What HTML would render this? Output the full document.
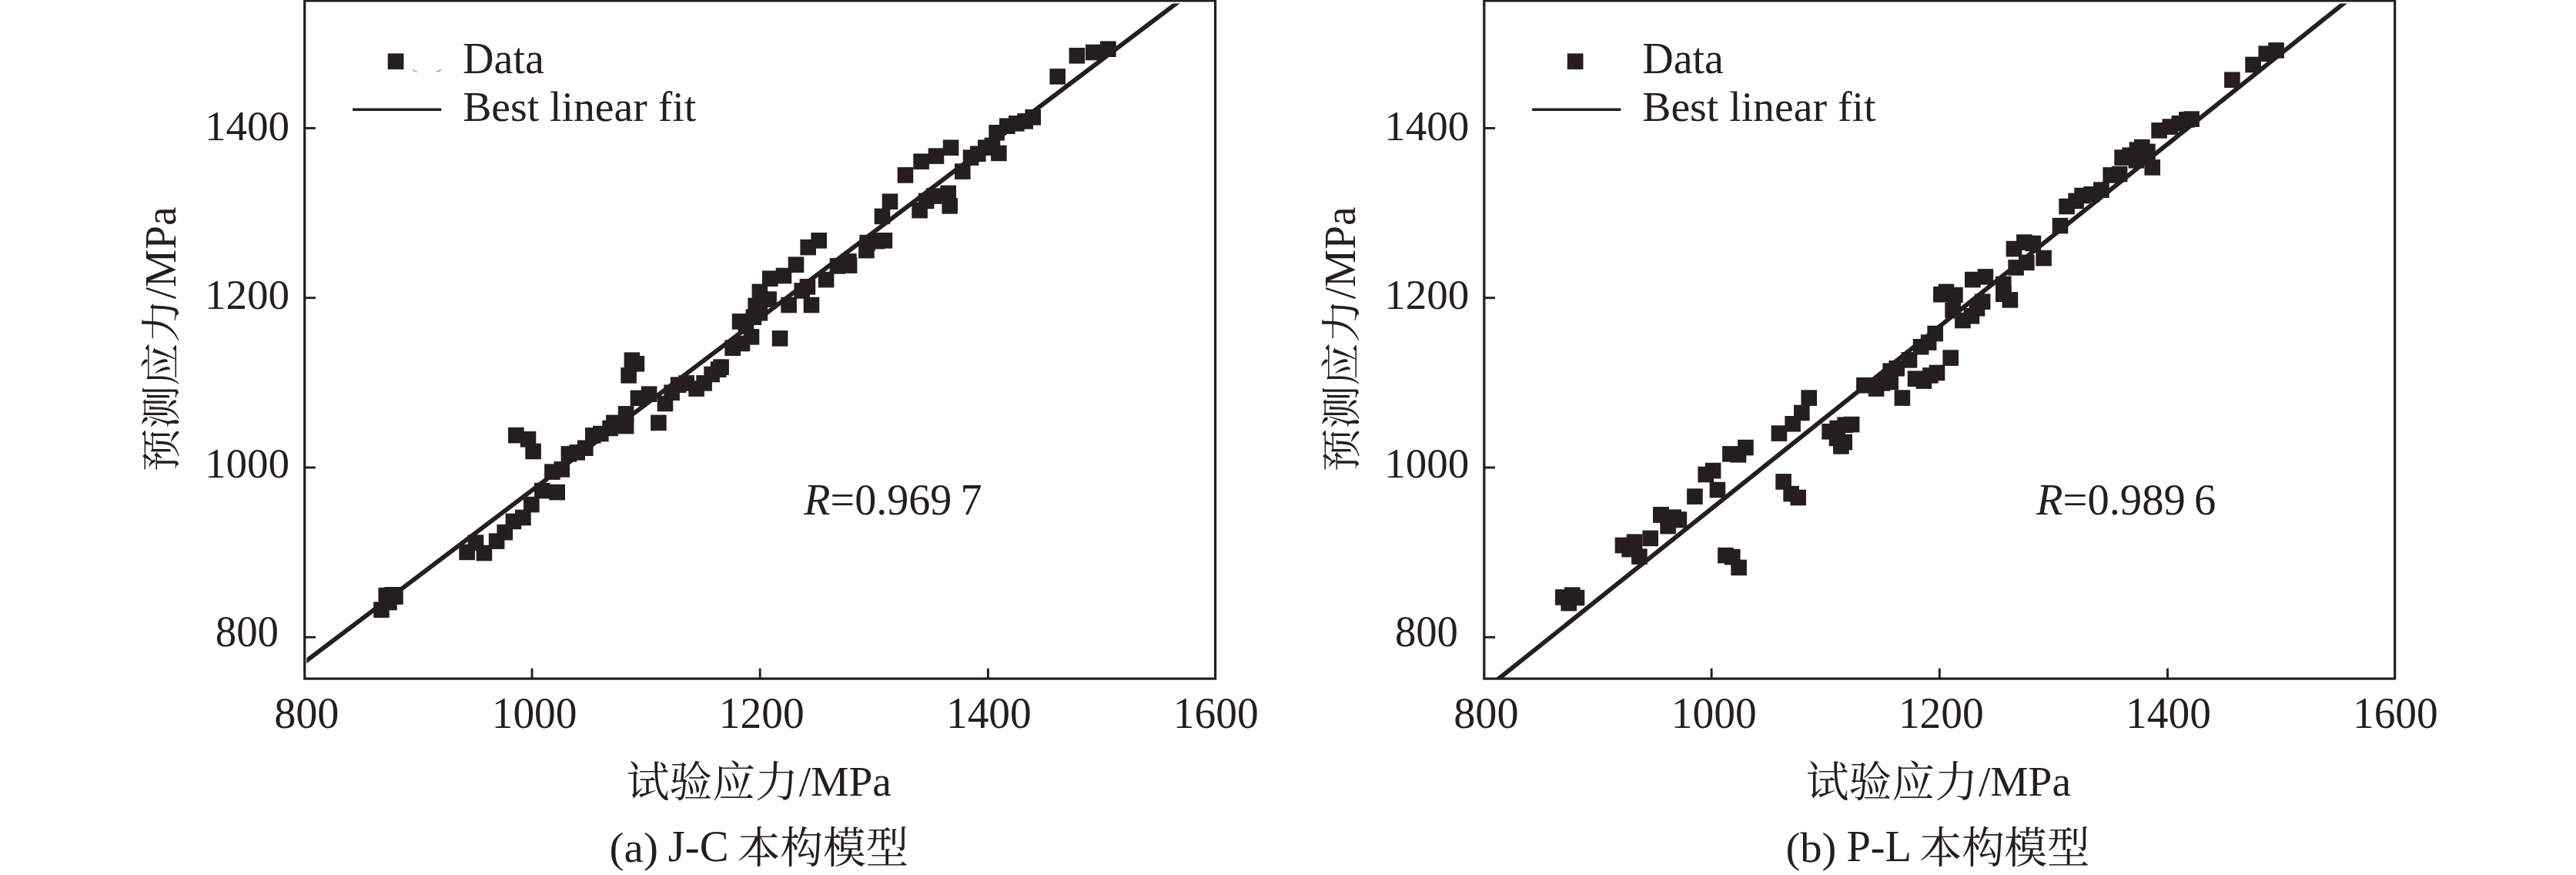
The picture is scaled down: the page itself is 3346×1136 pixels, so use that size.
<!DOCTYPE html>
<html lang="zh"><head><meta charset="utf-8"><title>J-C / P-L 本构模型 预测应力-试验应力</title>
<style>
html,body{margin:0;padding:0;background:#fff;}
body{width:3346px;height:1136px;overflow:hidden;}
svg{display:block;}
text{font-family:"Liberation Serif","Noto Serif CJK SC",serif;fill:#231f20;font-variant-ligatures:none;}
.i{font-style:italic;}
</style></head><body>
<svg width="3346" height="1136" viewBox="0 0 3346 1136">
<rect x="0" y="0" width="3346" height="1136" fill="#fff"/>
<g>
<clipPath id="clip0"><rect x="395.7" y="0" width="1182.9" height="881.1"/></clipPath>
<clipPath id="clip0L"><rect x="398.3" y="4.5" width="1180.3" height="876.6"/></clipPath>
<line x1="380.0" y1="871.5" x2="1560.0" y2="-19.8" stroke="#231f20" stroke-width="5.8" clip-path="url(#clip0L)"/>
<g fill="#231f20" clip-path="url(#clip0)">
<rect x="485.1" y="781.4" width="20.6" height="20.6"/>
<rect x="491.4" y="762.8" width="20.6" height="20.6"/>
<rect x="499.4" y="762.0" width="20.6" height="20.6"/>
<rect x="503.1" y="764.3" width="20.6" height="20.6"/>
<rect x="495.1" y="771.7" width="20.6" height="20.6"/>
<rect x="596.3" y="706.6" width="20.6" height="20.6"/>
<rect x="607.7" y="694.3" width="20.6" height="20.6"/>
<rect x="618.6" y="707.7" width="20.6" height="20.6"/>
<rect x="634.8" y="692.3" width="20.6" height="20.6"/>
<rect x="645.4" y="680.8" width="20.6" height="20.6"/>
<rect x="656.6" y="666.6" width="20.6" height="20.6"/>
<rect x="669.1" y="661.7" width="20.6" height="20.6"/>
<rect x="680.0" y="644.8" width="20.6" height="20.6"/>
<rect x="694.0" y="626.8" width="20.6" height="20.6"/>
<rect x="713.4" y="628.8" width="20.6" height="20.6"/>
<rect x="707.1" y="602.3" width="20.6" height="20.6"/>
<rect x="719.4" y="599.1" width="20.6" height="20.6"/>
<rect x="660.0" y="554.8" width="20.6" height="20.6"/>
<rect x="675.7" y="560.0" width="20.6" height="20.6"/>
<rect x="682.3" y="575.7" width="20.6" height="20.6"/>
<rect x="728.6" y="579.1" width="20.6" height="20.6"/>
<rect x="739.4" y="577.1" width="20.6" height="20.6"/>
<rect x="750.0" y="571.4" width="20.6" height="20.6"/>
<rect x="760.0" y="555.1" width="20.6" height="20.6"/>
<rect x="770.0" y="552.8" width="20.6" height="20.6"/>
<rect x="782.3" y="545.7" width="20.6" height="20.6"/>
<rect x="787.1" y="538.6" width="20.6" height="20.6"/>
<rect x="802.8" y="527.1" width="20.6" height="20.6"/>
<rect x="802.8" y="542.8" width="20.6" height="20.6"/>
<rect x="818.6" y="506.6" width="20.6" height="20.6"/>
<rect x="832.8" y="501.4" width="20.6" height="20.6"/>
<rect x="810.6" y="457.4" width="20.6" height="20.6"/>
<rect x="816.6" y="462.0" width="20.6" height="20.6"/>
<rect x="806.3" y="477.1" width="20.6" height="20.6"/>
<rect x="845.1" y="538.6" width="20.6" height="20.6"/>
<rect x="853.7" y="513.7" width="20.6" height="20.6"/>
<rect x="862.3" y="499.4" width="20.6" height="20.6"/>
<rect x="870.8" y="489.4" width="20.6" height="20.6"/>
<rect x="881.4" y="487.1" width="20.6" height="20.6"/>
<rect x="894.3" y="494.3" width="20.6" height="20.6"/>
<rect x="904.3" y="487.1" width="20.6" height="20.6"/>
<rect x="914.3" y="475.7" width="20.6" height="20.6"/>
<rect x="922.8" y="469.4" width="20.6" height="20.6"/>
<rect x="926.3" y="466.3" width="20.6" height="20.6"/>
<rect x="941.4" y="441.4" width="20.6" height="20.6"/>
<rect x="953.7" y="435.7" width="20.6" height="20.6"/>
<rect x="965.7" y="427.1" width="20.6" height="20.6"/>
<rect x="1002.8" y="429.1" width="20.6" height="20.6"/>
<rect x="950.8" y="407.1" width="20.6" height="20.6"/>
<rect x="958.6" y="412.8" width="20.6" height="20.6"/>
<rect x="968.6" y="401.4" width="20.6" height="20.6"/>
<rect x="971.4" y="386.6" width="20.6" height="20.6"/>
<rect x="976.6" y="368.6" width="20.6" height="20.6"/>
<rect x="988.3" y="378.3" width="20.6" height="20.6"/>
<rect x="976.6" y="396.0" width="20.6" height="20.6"/>
<rect x="990.0" y="351.4" width="20.6" height="20.6"/>
<rect x="1007.7" y="347.7" width="20.6" height="20.6"/>
<rect x="1023.7" y="333.4" width="20.6" height="20.6"/>
<rect x="1039.4" y="310.8" width="20.6" height="20.6"/>
<rect x="1053.4" y="302.0" width="20.6" height="20.6"/>
<rect x="1014.3" y="385.7" width="20.6" height="20.6"/>
<rect x="1031.4" y="367.1" width="20.6" height="20.6"/>
<rect x="1038.6" y="362.0" width="20.6" height="20.6"/>
<rect x="1043.7" y="385.7" width="20.6" height="20.6"/>
<rect x="1062.8" y="352.8" width="20.6" height="20.6"/>
<rect x="1077.7" y="335.1" width="20.6" height="20.6"/>
<rect x="1092.0" y="329.1" width="20.6" height="20.6"/>
<rect x="1092.8" y="334.3" width="20.6" height="20.6"/>
<rect x="1115.1" y="314.8" width="20.6" height="20.6"/>
<rect x="1116.3" y="304.8" width="20.6" height="20.6"/>
<rect x="1128.6" y="302.8" width="20.6" height="20.6"/>
<rect x="1138.6" y="302.0" width="20.6" height="20.6"/>
<rect x="1135.7" y="270.6" width="20.6" height="20.6"/>
<rect x="1145.7" y="251.4" width="20.6" height="20.6"/>
<rect x="1165.7" y="217.1" width="20.6" height="20.6"/>
<rect x="1184.3" y="262.8" width="20.6" height="20.6"/>
<rect x="1192.8" y="250.6" width="20.6" height="20.6"/>
<rect x="1202.8" y="244.3" width="20.6" height="20.6"/>
<rect x="1221.4" y="240.6" width="20.6" height="20.6"/>
<rect x="1223.4" y="257.1" width="20.6" height="20.6"/>
<rect x="1240.0" y="212.3" width="20.6" height="20.6"/>
<rect x="1186.3" y="199.4" width="20.6" height="20.6"/>
<rect x="1205.7" y="192.3" width="20.6" height="20.6"/>
<rect x="1224.8" y="181.4" width="20.6" height="20.6"/>
<rect x="1250.8" y="194.3" width="20.6" height="20.6"/>
<rect x="1260.0" y="189.4" width="20.6" height="20.6"/>
<rect x="1270.0" y="181.4" width="20.6" height="20.6"/>
<rect x="1278.6" y="178.6" width="20.6" height="20.6"/>
<rect x="1287.1" y="188.6" width="20.6" height="20.6"/>
<rect x="1284.3" y="162.0" width="20.6" height="20.6"/>
<rect x="1298.0" y="153.4" width="20.6" height="20.6"/>
<rect x="1310.0" y="150.0" width="20.6" height="20.6"/>
<rect x="1321.4" y="147.1" width="20.6" height="20.6"/>
<rect x="1331.4" y="142.0" width="20.6" height="20.6"/>
<rect x="1363.4" y="89.1" width="20.6" height="20.6"/>
<rect x="1388.6" y="62.0" width="20.6" height="20.6"/>
<rect x="1410.0" y="57.7" width="20.6" height="20.6"/>
<rect x="1429.1" y="53.4" width="20.6" height="20.6"/>
</g>
<rect x="395.7" y="0.9" width="1182.9" height="880.2" fill="none" stroke="#231f20" stroke-width="3.2"/>
<line x1="691.0" y1="881.1" x2="691.0" y2="867.7" stroke="#231f20" stroke-width="2.9"/>
<line x1="987.2" y1="881.1" x2="987.2" y2="867.7" stroke="#231f20" stroke-width="2.9"/>
<line x1="1283.4" y1="881.1" x2="1283.4" y2="867.7" stroke="#231f20" stroke-width="2.9"/>
<line x1="395.7" y1="827.3" x2="409.9" y2="827.3" stroke="#231f20" stroke-width="2.9"/>
<line x1="395.7" y1="607.0" x2="409.9" y2="607.0" stroke="#231f20" stroke-width="2.9"/>
<line x1="395.7" y1="386.7" x2="409.9" y2="386.7" stroke="#231f20" stroke-width="2.9"/>
<line x1="395.7" y1="166.4" x2="409.9" y2="166.4" stroke="#231f20" stroke-width="2.9"/>
<text transform="translate(356.15,944.65) scale(0.9780,1)" font-size="57.46">800</text>
<text transform="translate(638.71,944.67) scale(0.9785,1)" font-size="56.62">1000</text>
<text transform="translate(933.81,944.67) scale(0.9785,1)" font-size="56.62">1200</text>
<text transform="translate(1228.96,944.67) scale(0.9785,1)" font-size="56.62">1400</text>
<text transform="translate(1523.86,944.67) scale(0.9785,1)" font-size="56.62">1600</text>
<text transform="translate(279.81,839.17) scale(0.9648,1)" font-size="56.72">800</text>
<text transform="translate(266.05,619.98) scale(0.9847,1)" font-size="55.88">1000</text>
<text transform="translate(266.05,400.78) scale(0.9847,1)" font-size="55.88">1200</text>
<text transform="translate(266.05,181.58) scale(0.9847,1)" font-size="55.88">1400</text>
<rect x="503.7" y="69.4" width="20.7" height="20.7" fill="#231f20"/>
<line x1="458.0" y1="142.3" x2="573.2" y2="142.3" stroke="#231f20" stroke-width="3.4"/>
<text transform="translate(601.12,94.64) scale(0.9945,1)" font-size="56.36">Data</text>
<text transform="translate(601.13,156.76) scale(1.0312,1)" font-size="54.03">Best linear fit</text>
<text transform="translate(1044.30,667.57) scale(0.9882,1)" font-size="56.72"><tspan class="i">R</tspan>=0.969&#8201;7</text>
<text transform="translate(813.67,1033.81) scale(1.0176,1)" font-size="54.84">试验应力</text>
<text transform="translate(1037.80,1032.76) scale(1.0193,1)" font-size="54.39">/MPa</text>
<text transform="translate(791.62,1118.70) scale(1.0320,1)" font-size="55.22">(a)</text>
<text transform="translate(867.77,1117.77) scale(0.9987,1)" font-size="56.72">J-C</text>
<text transform="translate(957.98,1119.78) scale(1.0048,1)" font-size="55.27">本构模型</text>
<text transform="translate(228.40,612.50) rotate(-90) scale(1.0711,1)" font-size="52.23">预测应力</text>
<text transform="translate(227.94,388.30) rotate(-90) scale(0.9846,1)" font-size="56.21">/MPa</text>
</g>
<g>
<clipPath id="clip1532"><rect x="1927.8" y="0" width="1182.9" height="881.1"/></clipPath>
<clipPath id="clip1532L"><rect x="1930.4" y="4.5" width="1180.3" height="876.6"/></clipPath>
<line x1="1920.0" y1="902.4" x2="3100.0" y2="-40.1" stroke="#231f20" stroke-width="5.8" clip-path="url(#clip1532L)"/>
<g fill="#231f20" clip-path="url(#clip1532)">
<rect x="2020.0" y="765.1" width="20.6" height="20.6"/>
<rect x="2032.0" y="762.3" width="20.6" height="20.6"/>
<rect x="2037.7" y="765.7" width="20.6" height="20.6"/>
<rect x="2027.4" y="772.8" width="20.6" height="20.6"/>
<rect x="2097.7" y="697.7" width="20.6" height="20.6"/>
<rect x="2106.3" y="702.8" width="20.6" height="20.6"/>
<rect x="2112.8" y="693.4" width="20.6" height="20.6"/>
<rect x="2119.1" y="712.3" width="20.6" height="20.6"/>
<rect x="2133.4" y="688.6" width="20.6" height="20.6"/>
<rect x="2147.1" y="658.0" width="20.6" height="20.6"/>
<rect x="2156.3" y="672.8" width="20.6" height="20.6"/>
<rect x="2163.4" y="661.4" width="20.6" height="20.6"/>
<rect x="2170.0" y="664.8" width="20.6" height="20.6"/>
<rect x="2191.1" y="634.3" width="20.6" height="20.6"/>
<rect x="2220.6" y="625.7" width="20.6" height="20.6"/>
<rect x="2231.1" y="710.8" width="20.6" height="20.6"/>
<rect x="2240.0" y="712.8" width="20.6" height="20.6"/>
<rect x="2248.3" y="726.6" width="20.6" height="20.6"/>
<rect x="2306.3" y="615.1" width="20.6" height="20.6"/>
<rect x="2316.3" y="630.8" width="20.6" height="20.6"/>
<rect x="2325.4" y="635.7" width="20.6" height="20.6"/>
<rect x="2147.1" y="658.0" width="20.6" height="20.6"/>
<rect x="2159.1" y="662.0" width="20.6" height="20.6"/>
<rect x="2170.6" y="664.3" width="20.6" height="20.6"/>
<rect x="2205.4" y="605.7" width="20.6" height="20.6"/>
<rect x="2214.8" y="600.8" width="20.6" height="20.6"/>
<rect x="2237.1" y="579.1" width="20.6" height="20.6"/>
<rect x="2247.7" y="580.0" width="20.6" height="20.6"/>
<rect x="2257.1" y="570.8" width="20.6" height="20.6"/>
<rect x="2300.6" y="552.3" width="20.6" height="20.6"/>
<rect x="2318.3" y="540.0" width="20.6" height="20.6"/>
<rect x="2330.0" y="525.7" width="20.6" height="20.6"/>
<rect x="2339.4" y="506.3" width="20.6" height="20.6"/>
<rect x="2366.3" y="550.0" width="20.6" height="20.6"/>
<rect x="2376.3" y="545.7" width="20.6" height="20.6"/>
<rect x="2386.3" y="541.4" width="20.6" height="20.6"/>
<rect x="2394.8" y="540.8" width="20.6" height="20.6"/>
<rect x="2375.7" y="558.6" width="20.6" height="20.6"/>
<rect x="2385.4" y="563.7" width="20.6" height="20.6"/>
<rect x="2381.1" y="569.1" width="20.6" height="20.6"/>
<rect x="2411.1" y="490.0" width="20.6" height="20.6"/>
<rect x="2426.8" y="494.3" width="20.6" height="20.6"/>
<rect x="2434.8" y="487.1" width="20.6" height="20.6"/>
<rect x="2445.4" y="471.4" width="20.6" height="20.6"/>
<rect x="2445.4" y="485.7" width="20.6" height="20.6"/>
<rect x="2453.4" y="468.0" width="20.6" height="20.6"/>
<rect x="2460.6" y="506.3" width="20.6" height="20.6"/>
<rect x="2469.7" y="457.1" width="20.6" height="20.6"/>
<rect x="2477.7" y="481.4" width="20.6" height="20.6"/>
<rect x="2484.8" y="440.0" width="20.6" height="20.6"/>
<rect x="2488.6" y="484.3" width="20.6" height="20.6"/>
<rect x="2494.8" y="434.3" width="20.6" height="20.6"/>
<rect x="2497.1" y="477.1" width="20.6" height="20.6"/>
<rect x="2503.4" y="422.8" width="20.6" height="20.6"/>
<rect x="2505.7" y="473.7" width="20.6" height="20.6"/>
<rect x="2523.4" y="454.3" width="20.6" height="20.6"/>
<rect x="2511.1" y="372.0" width="20.6" height="20.6"/>
<rect x="2517.7" y="368.6" width="20.6" height="20.6"/>
<rect x="2529.1" y="372.8" width="20.6" height="20.6"/>
<rect x="2526.3" y="392.8" width="20.6" height="20.6"/>
<rect x="2539.1" y="405.7" width="20.6" height="20.6"/>
<rect x="2550.6" y="400.0" width="20.6" height="20.6"/>
<rect x="2557.7" y="390.0" width="20.6" height="20.6"/>
<rect x="2564.8" y="381.4" width="20.6" height="20.6"/>
<rect x="2552.0" y="352.8" width="20.6" height="20.6"/>
<rect x="2568.6" y="349.1" width="20.6" height="20.6"/>
<rect x="2592.0" y="358.6" width="20.6" height="20.6"/>
<rect x="2592.0" y="371.4" width="20.6" height="20.6"/>
<rect x="2600.6" y="379.1" width="20.6" height="20.6"/>
<rect x="2608.3" y="337.1" width="20.6" height="20.6"/>
<rect x="2622.0" y="330.6" width="20.6" height="20.6"/>
<rect x="2605.7" y="312.8" width="20.6" height="20.6"/>
<rect x="2619.1" y="304.3" width="20.6" height="20.6"/>
<rect x="2630.6" y="305.7" width="20.6" height="20.6"/>
<rect x="2644.3" y="324.8" width="20.6" height="20.6"/>
<rect x="2665.7" y="282.8" width="20.6" height="20.6"/>
<rect x="2674.3" y="257.7" width="20.6" height="20.6"/>
<rect x="2686.3" y="250.6" width="20.6" height="20.6"/>
<rect x="2694.3" y="243.7" width="20.6" height="20.6"/>
<rect x="2706.3" y="242.0" width="20.6" height="20.6"/>
<rect x="2719.1" y="236.3" width="20.6" height="20.6"/>
<rect x="2731.4" y="217.1" width="20.6" height="20.6"/>
<rect x="2742.8" y="215.7" width="20.6" height="20.6"/>
<rect x="2746.3" y="194.3" width="20.6" height="20.6"/>
<rect x="2756.3" y="191.4" width="20.6" height="20.6"/>
<rect x="2765.7" y="184.3" width="20.6" height="20.6"/>
<rect x="2772.0" y="180.8" width="20.6" height="20.6"/>
<rect x="2779.1" y="186.6" width="20.6" height="20.6"/>
<rect x="2785.4" y="207.1" width="20.6" height="20.6"/>
<rect x="2764.6" y="198.0" width="20.6" height="20.6"/>
<rect x="2794.3" y="159.1" width="20.6" height="20.6"/>
<rect x="2808.6" y="154.3" width="20.6" height="20.6"/>
<rect x="2820.6" y="150.0" width="20.6" height="20.6"/>
<rect x="2830.0" y="145.1" width="20.6" height="20.6"/>
<rect x="2836.3" y="144.3" width="20.6" height="20.6"/>
<rect x="2889.1" y="93.4" width="20.6" height="20.6"/>
<rect x="2916.3" y="73.7" width="20.6" height="20.6"/>
<rect x="2933.4" y="59.4" width="20.6" height="20.6"/>
<rect x="2946.3" y="55.1" width="20.6" height="20.6"/>
</g>
<rect x="1927.8" y="0.9" width="1182.9" height="880.2" fill="none" stroke="#231f20" stroke-width="3.2"/>
<line x1="2223.1" y1="881.1" x2="2223.1" y2="867.7" stroke="#231f20" stroke-width="2.9"/>
<line x1="2519.3" y1="881.1" x2="2519.3" y2="867.7" stroke="#231f20" stroke-width="2.9"/>
<line x1="2815.5" y1="881.1" x2="2815.5" y2="867.7" stroke="#231f20" stroke-width="2.9"/>
<line x1="1927.8" y1="827.3" x2="1942.0" y2="827.3" stroke="#231f20" stroke-width="2.9"/>
<line x1="1927.8" y1="607.0" x2="1942.0" y2="607.0" stroke="#231f20" stroke-width="2.9"/>
<line x1="1927.8" y1="386.7" x2="1942.0" y2="386.7" stroke="#231f20" stroke-width="2.9"/>
<line x1="1927.8" y1="166.4" x2="1942.0" y2="166.4" stroke="#231f20" stroke-width="2.9"/>
<text transform="translate(1888.25,944.65) scale(0.9780,1)" font-size="57.46">800</text>
<text transform="translate(2170.81,944.67) scale(0.9785,1)" font-size="56.62">1000</text>
<text transform="translate(2465.91,944.67) scale(0.9785,1)" font-size="56.62">1200</text>
<text transform="translate(2761.06,944.67) scale(0.9785,1)" font-size="56.62">1400</text>
<text transform="translate(3055.96,944.67) scale(0.9785,1)" font-size="56.62">1600</text>
<text transform="translate(1811.91,839.17) scale(0.9648,1)" font-size="56.72">800</text>
<text transform="translate(1798.15,619.98) scale(0.9847,1)" font-size="55.88">1000</text>
<text transform="translate(1798.15,400.78) scale(0.9847,1)" font-size="55.88">1200</text>
<text transform="translate(1798.15,181.58) scale(0.9847,1)" font-size="55.88">1400</text>
<rect x="2035.8" y="69.4" width="20.7" height="20.7" fill="#231f20"/>
<line x1="1990.1" y1="142.3" x2="2105.3" y2="142.3" stroke="#231f20" stroke-width="3.4"/>
<text transform="translate(2133.22,94.64) scale(0.9945,1)" font-size="56.36">Data</text>
<text transform="translate(2133.23,156.76) scale(1.0312,1)" font-size="54.03">Best linear fit</text>
<text transform="translate(2645.00,667.57) scale(0.9975,1)" font-size="56.72"><tspan class="i">R</tspan>=0.989&#8201;6</text>
<text transform="translate(2345.77,1033.81) scale(1.0176,1)" font-size="54.84">试验应力</text>
<text transform="translate(2569.90,1032.76) scale(1.0193,1)" font-size="54.39">/MPa</text>
<text transform="translate(2319.44,1118.70) scale(1.0245,1)" font-size="55.22">(b)</text>
<text transform="translate(2398.41,1118.00) scale(0.9986,1)" font-size="56.46">P-L</text>
<text transform="translate(2492.88,1119.78) scale(1.0021,1)" font-size="55.27">本构模型</text>
<text transform="translate(1760.50,612.50) rotate(-90) scale(1.0711,1)" font-size="52.23">预测应力</text>
<text transform="translate(1760.04,388.30) rotate(-90) scale(0.9846,1)" font-size="56.21">/MPa</text>
</g>
<path d="M536.4 90.7 q2.2 1.9 5.0 2.3 M567.3 93.0 q2.8 -0.4 5.2 -2.3" fill="none" stroke="#a3a1a2" stroke-width="1.5" stroke-linecap="round"/>
</svg></body></html>
